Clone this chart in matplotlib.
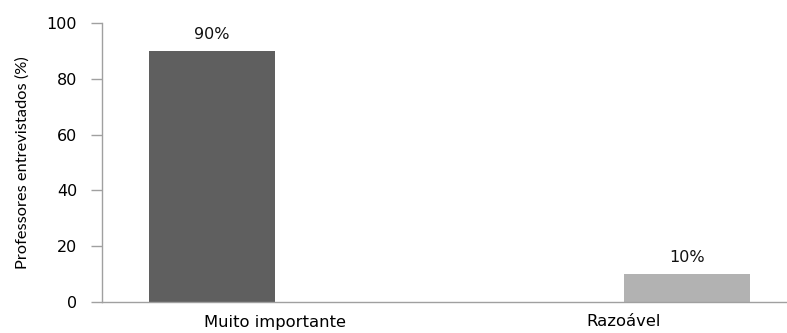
import matplotlib
matplotlib.use("Agg")
import matplotlib.pyplot as plt

categories = ["Muito importante", "Razoável"]
series_names = ["Muito importante", "Razoável"]
series_values = [[90, 0], [0, 10]]
series_colors = ["#5f5f5f", "#b2b2b2"]
y_ticks = [0, 20, 40, 60, 80, 100]

W, H = 787, 333
fig = plt.figure(figsize=(W / 100, H / 100), dpi=100)
ax = fig.add_axes([102 / W, 31 / H, (W - 102) / W, 279 / H])

bar_w = 0.361
x = list(range(len(categories)))
n = len(series_values)
for i, (name, vals, col) in enumerate(zip(series_names, series_values, series_colors)):
    offset = (i - (n - 1) / 2) * bar_w
    pos = [xi + offset for xi in x]
    ax.bar(pos, vals, width=bar_w, color=col, label=name, zorder=2)
    for p, v in zip(pos, vals):
        if v:
            ax.text(p, v + 6, f"{v}%", ha="center", va="center",
                    fontsize=11.5, family="DejaVu Sans", color="#111111")

ax.set_xlim(-0.4957, -0.4957 + (W - 102) / 349)
ax.set_ylim(0, 100)
ax.set_yticks(y_ticks)
ax.set_yticklabels([str(t) for t in y_ticks], family="DejaVu Sans", fontsize=11.5)
ax.set_xticks(x)
ax.set_xticklabels(categories, family="DejaVu Sans", fontsize=11.8)

for side in ["top", "right"]:
    ax.spines[side].set_visible(False)
for side in ["left", "bottom"]:
    ax.spines[side].set_color("#a0a0a0")
    ax.spines[side].set_linewidth(1.0)
ax.tick_params(axis="y", direction="out", length=8, width=1.0, color="#a0a0a0", pad=10)
ax.tick_params(axis="x", length=0, pad=9)

ax.set_ylabel("Professores entrevistados (%)", family="Lato", fontsize=11.8)
ax.yaxis.set_label_coords(-0.106, 0.5)

fig.savefig("out.png", dpi=100)
